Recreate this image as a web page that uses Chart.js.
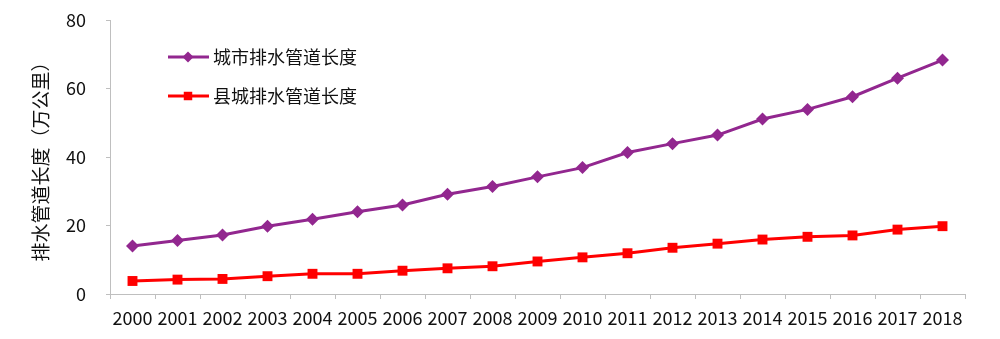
<!DOCTYPE html>
<html>
<head>
<meta charset="utf-8">
<script src="https://cdn.jsdelivr.net/npm/chart.js@4"></script>
<style>
  html, body { margin: 0; padding: 0; background: #fff; }
  #wrap { width: 1000px; height: 339px; }
</style>
</head>
<body>
<div id="wrap"><canvas id="pipeChart"></canvas></div>
<script>
const years = ['2000', '2001', '2002', '2003', '2004', '2005', '2006', '2007', '2008', '2009',
    '2010', '2011', '2012', '2013', '2014', '2015', '2016', '2017', '2018'];
const cityPipe = [14.0, 15.6, 17.2, 19.8, 21.8, 24.0, 26.0, 29.1, 31.4, 34.2,
    36.9, 41.3, 43.9, 46.4, 51.1, 53.9, 57.6, 63.0, 68.3];
const countyPipe = [3.8, 4.2, 4.4, 5.2, 5.9, 5.9, 6.8, 7.5, 8.1, 9.5,
    10.7, 11.9, 13.5, 14.7, 15.9, 16.7, 17.1, 18.8, 19.8];
const yTicks = [0, 20, 40, 60, 80];

const FONT = '"Noto Sans CJK SC", "Noto Sans", sans-serif';

// 图例画在绘图区内部（左上）
const innerLegend = {
    id: 'innerLegend',
    afterDraw(chart) {
        const ctx = chart.ctx;
        const rows = [57, 96];
        chart.data.datasets.forEach((ds, i) => {
            const y = rows[i];
            ctx.save();
            ctx.strokeStyle = ds.borderColor;
            ctx.fillStyle = ds.backgroundColor;
            ctx.lineWidth = 3;
            ctx.beginPath();
            ctx.moveTo(168, y);
            ctx.lineTo(209, y);
            ctx.stroke();
            Chart.helpers.drawPoint(ctx, {
                pointStyle: ds.pointStyle,
                radius: ds.pointRadius - 1,
                borderWidth: 0
            }, 188, y);
            ctx.fillStyle = '#111';
            ctx.font = '18px ' + FONT;
            ctx.textBaseline = 'middle';
            ctx.fillText(ds.label, 213, y);
            ctx.restore();
        });
    }
};

new Chart(document.getElementById('pipeChart'), {
    type: 'line',
    data: {
        labels: years,
        datasets: [{
            label: '城市排水管道长度',
            data: cityPipe,
            borderColor: '#92278F',
            backgroundColor: '#92278F',
            borderWidth: 3,
            pointStyle: 'rectRot',
            pointRadius: 6.5,
            pointBorderWidth: 0
        }, {
            label: '县城排水管道长度',
            data: countyPipe,
            borderColor: '#FF0000',
            backgroundColor: '#FF0000',
            borderWidth: 3,
            pointStyle: 'rect',
            pointRadius: 7,
            pointBorderWidth: 0
        }]
    },
    options: {
        responsive: true,
        maintainAspectRatio: false,
        animation: false,
        layout: { padding: { top: 20, right: 35, left: 0, bottom: 0 } },
        plugins: {
            legend: { display: false },
            tooltip: { enabled: false }
        },
        scales: {
            x: {
                offset: true,
                grid: {
                    offset: true,
                    drawOnChartArea: false,
                    tickLength: 5,
                    color: '#BFBFBF'
                },
                border: { color: '#BFBFBF', width: 1 },
                ticks: {
                    color: '#111',
                    font: { family: FONT, size: 18 },
                    maxRotation: 0,
                    autoSkip: false,
                    padding: 8
                },
                afterFit(scale) { scale.height = 45; }
            },
            y: {
                min: 0,
                max: 80,
                afterBuildTicks(scale) { scale.ticks = yTicks.map(v => ({ value: v })); },
                grid: {
                    drawOnChartArea: false,
                    tickLength: 4,
                    color: '#BFBFBF'
                },
                border: { color: '#BFBFBF', width: 1 },
                ticks: {
                    color: '#111',
                    font: { family: FONT, size: 18 },
                    padding: 20
                },
                title: {
                    display: true,
                    text: '排水管道长度（万公里）',
                    color: '#111',
                    font: { family: FONT, size: 19 },
                    padding: { top: 29, bottom: 0 }
                },
                afterFit(scale) {
                    scale.width = 110;
                    scale.paddingTop = 0;
                    scale.paddingBottom = 0;
                }
            }
        }
    },
    plugins: [innerLegend]
});
</script>
</body>
</html>
